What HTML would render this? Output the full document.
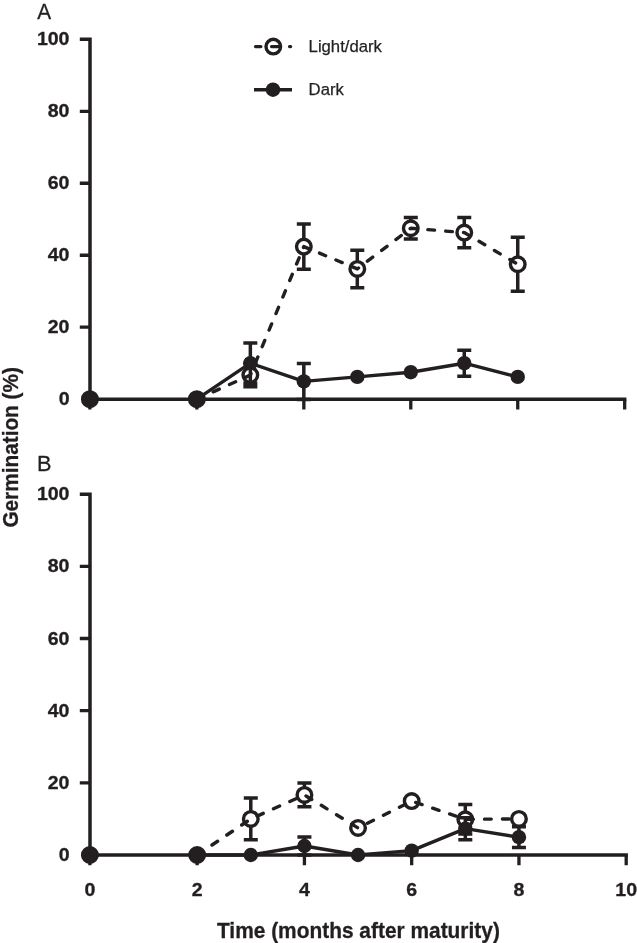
<!DOCTYPE html>
<html lang="en"><head><meta charset="utf-8"><title>Germination over time</title>
<style>
html,body{margin:0;padding:0;background:#fff}
svg{display:block}
text{font-family:"Liberation Sans",Arial,Helvetica,sans-serif;fill:#231f20;stroke:#231f20;stroke-width:.3px;stroke-linejoin:round}
.tk{font-size:18.2px;font-weight:bold}
.ax{font-size:22.3px;font-weight:bold}
.ax2{font-size:21.8px;font-weight:bold}
.pl{font-size:22.9px;stroke-width:.3px}
.lg{font-size:16.7px;stroke-width:.25px}
</style></head><body>
<svg width="637" height="943" viewBox="0 0 637 943">
<rect width="637" height="943" fill="#fff"/>
<path d="M79.80 39.30H90.0M90.0 37.60V400.90M88.30 399.20H626.40" fill="none" stroke="#231f20" stroke-width="3.5"/>
<path d="M79.80 111.28H90.0M79.80 183.26H90.0M79.80 255.24H90.0M79.80 327.22H90.0M89.90 399.20V409.50M196.86 399.20V409.50M303.82 399.20V409.50M410.78 399.20V409.50M517.74 399.20V409.50M624.70 399.20V409.50" fill="none" stroke="#231f20" stroke-width="3.3"/>
<text transform="translate(69.50 45.30) scale(1.075 1)" text-anchor="end" class="tk">100</text>
<text transform="translate(69.50 117.28) scale(1.075 1)" text-anchor="end" class="tk">80</text>
<text transform="translate(69.50 189.26) scale(1.075 1)" text-anchor="end" class="tk">60</text>
<text transform="translate(69.50 261.24) scale(1.075 1)" text-anchor="end" class="tk">40</text>
<text transform="translate(69.50 333.22) scale(1.075 1)" text-anchor="end" class="tk">20</text>
<text transform="translate(69.50 405.20) scale(1.075 1)" text-anchor="end" class="tk">0</text>
<path d="M250.34 363.32V386.86M243.34 363.32h14M243.34 386.86h14M303.82 223.93V269.28M296.82 223.93h14M296.82 269.28h14M357.30 250.20V287.63M350.30 250.20h14M350.30 287.63h14M410.78 217.45V239.04M403.78 217.45h14M403.78 239.04h14M464.26 217.45V247.68M457.26 217.45h14M457.26 247.68h14M517.74 237.24V291.23M510.74 237.24h14M510.74 291.23h14" fill="none" stroke="#231f20" stroke-width="3.5"/>
<circle cx="89.90" cy="399.20" r="7.3" fill="#fff" stroke="#231f20" stroke-width="3.4"/>
<circle cx="196.86" cy="399.20" r="7.3" fill="#fff" stroke="#231f20" stroke-width="3.4"/>
<circle cx="250.34" cy="375.09" r="7.3" fill="#fff" stroke="#231f20" stroke-width="3.4"/>
<circle cx="303.82" cy="246.60" r="7.3" fill="#fff" stroke="#231f20" stroke-width="3.4"/>
<circle cx="357.30" cy="268.92" r="7.3" fill="#fff" stroke="#231f20" stroke-width="3.4"/>
<circle cx="410.78" cy="228.25" r="7.3" fill="#fff" stroke="#231f20" stroke-width="3.4"/>
<circle cx="464.26" cy="232.57" r="7.3" fill="#fff" stroke="#231f20" stroke-width="3.4"/>
<circle cx="517.74" cy="264.24" r="7.3" fill="#fff" stroke="#231f20" stroke-width="3.4"/>
<polyline points="196.86,399.20 250.34,375.09 303.82,246.60 357.30,268.92 410.78,228.25 464.26,232.57 517.74,264.24" fill="none" stroke="#231f20" stroke-width="3.4" stroke-linecap="round" stroke-linejoin="round" stroke-dasharray="6.7 11.2"/>
<path d="M250.34 343.06V383.36M243.34 343.06h14M243.34 383.36h14M303.82 363.39V399.38M296.82 363.39h14M296.82 399.38h14M464.26 350.25V376.17M457.26 350.25h14M457.26 376.17h14" fill="none" stroke="#231f20" stroke-width="3.5"/>
<polyline points="196.86,399.20 250.34,363.21 303.82,381.38 357.30,376.89 410.78,372.21 464.26,363.21 517.74,376.89" fill="none" stroke="#231f20" stroke-width="3.4" stroke-linejoin="round"/>
<circle cx="89.90" cy="399.20" r="7.2" fill="#231f20"/>
<circle cx="196.86" cy="399.20" r="7.2" fill="#231f20"/>
<circle cx="250.34" cy="363.21" r="7.2" fill="#231f20"/>
<circle cx="303.82" cy="381.38" r="7.2" fill="#231f20"/>
<circle cx="357.30" cy="376.89" r="7.2" fill="#231f20"/>
<circle cx="410.78" cy="372.21" r="7.2" fill="#231f20"/>
<circle cx="464.26" cy="363.21" r="7.2" fill="#231f20"/>
<circle cx="517.74" cy="376.89" r="7.2" fill="#231f20"/>
<path d="M79.80 494.20H90.0M90.0 492.50V856.70M88.30 855.00H627.90" fill="none" stroke="#231f20" stroke-width="3.5"/>
<path d="M79.80 566.36H90.0M79.80 638.52H90.0M79.80 710.68H90.0M79.80 782.84H90.0M89.90 855.00V865.30M197.16 855.00V865.30M304.42 855.00V865.30M411.68 855.00V865.30M518.94 855.00V865.30M626.20 855.00V865.30" fill="none" stroke="#231f20" stroke-width="3.3"/>
<text transform="translate(69.50 500.20) scale(1.075 1)" text-anchor="end" class="tk">100</text>
<text transform="translate(69.50 572.36) scale(1.075 1)" text-anchor="end" class="tk">80</text>
<text transform="translate(69.50 644.52) scale(1.075 1)" text-anchor="end" class="tk">60</text>
<text transform="translate(69.50 716.68) scale(1.075 1)" text-anchor="end" class="tk">40</text>
<text transform="translate(69.50 788.84) scale(1.075 1)" text-anchor="end" class="tk">20</text>
<text transform="translate(69.50 861.00) scale(1.075 1)" text-anchor="end" class="tk">0</text>
<path d="M250.79 797.99V839.85M243.79 797.99h14M243.79 839.85h14M304.42 783.02V806.83M297.42 783.02h14M297.42 806.83h14M465.31 804.49V834.07M458.31 804.49h14M458.31 834.07h14" fill="none" stroke="#231f20" stroke-width="3.5"/>
<circle cx="89.90" cy="855.00" r="7.3" fill="#fff" stroke="#231f20" stroke-width="3.4"/>
<circle cx="197.16" cy="855.00" r="7.3" fill="#fff" stroke="#231f20" stroke-width="3.4"/>
<circle cx="250.79" cy="818.92" r="7.3" fill="#fff" stroke="#231f20" stroke-width="3.4"/>
<circle cx="304.42" cy="794.93" r="7.3" fill="#fff" stroke="#231f20" stroke-width="3.4"/>
<circle cx="358.05" cy="827.94" r="7.3" fill="#fff" stroke="#231f20" stroke-width="3.4"/>
<circle cx="411.68" cy="801.06" r="7.3" fill="#fff" stroke="#231f20" stroke-width="3.4"/>
<circle cx="465.31" cy="819.28" r="7.3" fill="#fff" stroke="#231f20" stroke-width="3.4"/>
<circle cx="518.94" cy="818.92" r="7.3" fill="#fff" stroke="#231f20" stroke-width="3.4"/>
<polyline points="197.16,855.00 250.79,818.92 304.42,794.93 358.05,827.94 411.68,801.06 465.31,819.28 518.94,818.92" fill="none" stroke="#231f20" stroke-width="3.4" stroke-linecap="round" stroke-linejoin="round" stroke-dasharray="6.7 11.2"/>
<path d="M304.42 836.96V855.00M297.42 836.96h14M297.42 855.00h14M465.31 817.66V839.67M458.31 817.66h14M458.31 839.67h14M518.94 826.68V847.60M511.94 826.68h14M511.94 847.60h14" fill="none" stroke="#231f20" stroke-width="3.5"/>
<polyline points="197.16,855.00 250.79,855.00 304.42,845.98 358.05,855.00 411.68,850.67 465.31,828.66 518.94,837.14" fill="none" stroke="#231f20" stroke-width="3.4" stroke-linejoin="round"/>
<circle cx="89.90" cy="855.00" r="7.2" fill="#231f20"/>
<circle cx="197.16" cy="855.00" r="7.2" fill="#231f20"/>
<circle cx="250.79" cy="855.00" r="7.2" fill="#231f20"/>
<circle cx="304.42" cy="845.98" r="7.2" fill="#231f20"/>
<circle cx="358.05" cy="855.00" r="7.2" fill="#231f20"/>
<circle cx="411.68" cy="850.67" r="7.2" fill="#231f20"/>
<circle cx="465.31" cy="828.66" r="7.2" fill="#231f20"/>
<circle cx="518.94" cy="837.14" r="7.2" fill="#231f20"/>
<text transform="translate(89.90 896.30) scale(1.075 1)" text-anchor="middle" class="tk">0</text>
<text transform="translate(197.16 896.30) scale(1.075 1)" text-anchor="middle" class="tk">2</text>
<text transform="translate(304.42 896.30) scale(1.075 1)" text-anchor="middle" class="tk">4</text>
<text transform="translate(411.68 896.30) scale(1.075 1)" text-anchor="middle" class="tk">6</text>
<text transform="translate(518.94 896.30) scale(1.075 1)" text-anchor="middle" class="tk">8</text>
<text transform="translate(626.20 896.30) scale(1.075 1)" text-anchor="middle" class="tk">10</text>
<text transform="translate(37.20 18.90) scale(0.909 1)" class="pl">A</text>
<text transform="translate(37.00 471.00) scale(0.95 1)" class="pl">B</text>
<text transform="translate(358.40 938.40) scale(0.959 1)" text-anchor="middle" class="ax2">Time (months after maturity)</text>
<text transform="translate(18.20 447.35) rotate(-90) scale(0.933 1)" text-anchor="middle" class="ax">Germination (%)</text>
<circle cx="273.3" cy="46.6" r="7.3" fill="#fff" stroke="#231f20" stroke-width="3.4"/>
<path d="M255.6 46.6h5.2M271.6 46.6h7M289.6 46.6h1" fill="none" stroke="#231f20" stroke-width="3.4" stroke-linecap="round"/>
<path d="M254 89.7h38" fill="none" stroke="#231f20" stroke-width="3.4"/>
<circle cx="273" cy="89.7" r="7.2" fill="#231f20"/>
<text transform="translate(308.60 52.00)" class="lg">Light/dark</text>
<text transform="translate(308.60 95.10)" class="lg">Dark</text>
</svg>
</body></html>
